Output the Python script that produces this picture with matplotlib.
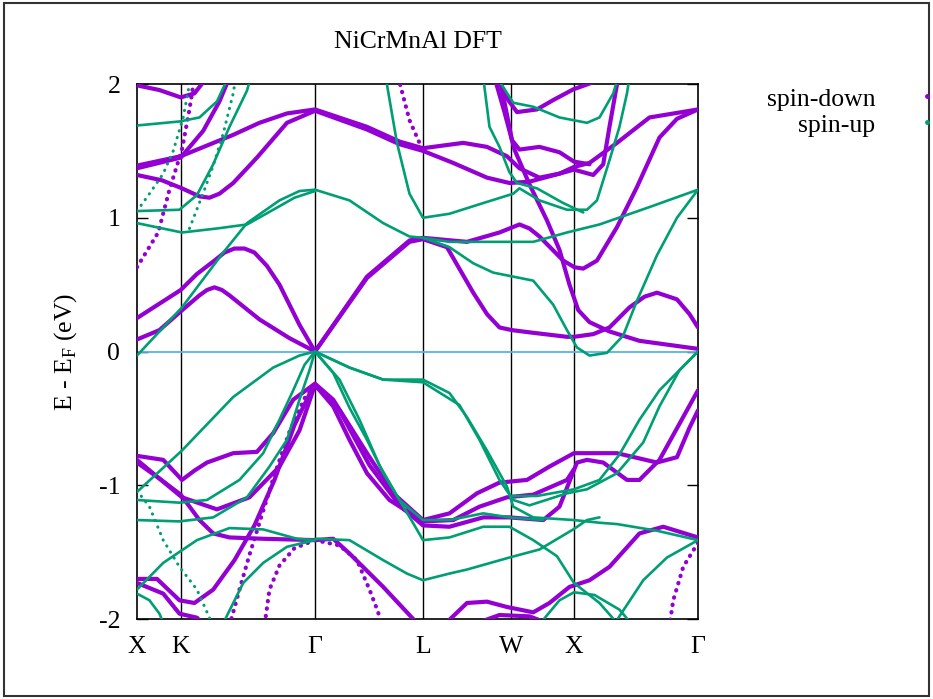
import matplotlib
matplotlib.use("Agg")
import matplotlib.pyplot as plt
from matplotlib.lines import Line2D
from matplotlib.patches import Rectangle

# high-symmetry points along the path
kpts = [0.0, 0.352, 1.424, 2.288, 2.992, 3.496, 4.488]
klabels = ["X", "K", "Γ", "L", "W", "X", "Γ"]

# spin-down bands, (k, E - E_F)
dn_01 = [(0, 1.99), (0.18, 1.955), (0.35, 1.90), (0.46, 1.93), (0.56, 2.05)]
dn_02 = [(0, 1.39), (0.35, 1.46), (0.77, 1.62), (0.98, 1.71), (1.20, 1.78), (1.424, 1.81),
         (1.84, 1.68), (2.10, 1.57), (2.288, 1.52), (2.61, 1.56), (2.80, 1.53), (2.96, 1.46),
         (3.06, 1.37), (3.22, 1.30), (3.38, 1.33), (3.496, 1.38), (3.62, 1.41), (3.84, 1.56),
         (4.10, 1.75), (4.488, 1.81)]
dn_03 = [(0, 1.32), (0.20, 1.28), (0.36, 1.22), (0.50, 1.16), (0.58, 1.15), (0.66, 1.18),
         (0.77, 1.26), (0.96, 1.45), (1.20, 1.71), (1.424, 1.80), (1.84, 1.66), (2.10, 1.55),
         (2.288, 1.50), (2.53, 1.41), (2.80, 1.30), (2.98, 1.26), (3.14, 1.27), (3.38, 1.33),
         (3.496, 1.36), (3.65, 1.32), (3.73, 1.40), (3.78, 1.68), (3.85, 2.05)]
dn_04 = [(0, 1.37), (0.35, 1.45), (0.53, 1.65), (0.66, 1.87), (0.74, 2.05)]
dn_05 = [(0, 0.63), (0.17, 0.89), (0.26, 1.21), (0.36, 1.51), (0.42, 1.81), (0.46, 2.05)]
dn_06 = [(0, 0.25), (0.35, 0.46), (0.48, 0.58), (0.62, 0.68), (0.70, 0.74), (0.78, 0.77),
         (0.86, 0.77), (0.94, 0.74), (1.04, 0.64), (1.14, 0.50), (1.30, 0.20), (1.424, 0.0),
         (1.84, 0.56), (2.18, 0.83), (2.288, 0.85), (2.64, 0.82), (2.90, 0.89), (3.06, 0.95),
         (3.14, 0.92), (3.22, 0.86), (3.41, 0.68), (3.50, 0.63), (3.57, 0.62), (3.68, 0.68),
         (3.84, 0.93), (4.0, 1.23), (4.18, 1.60), (4.32, 1.74), (4.488, 1.81)]
dn_07 = [(0, 0.09), (0.18, 0.16), (0.35, 0.30), (0.50, 0.42), (0.56, 0.46), (0.62, 0.48),
         (0.68, 0.46), (0.74, 0.42), (0.86, 0.33), (0.98, 0.24), (1.22, 0.10), (1.424, 0.0),
         (1.84, 0.55), (2.18, 0.82), (2.288, 0.84), (2.48, 0.78), (2.69, 0.44), (2.80, 0.28),
         (2.90, 0.18), (3.0, 0.16), (3.17, 0.14), (3.44, 0.11), (3.496, 0.11), (3.65, 0.13),
         (3.78, 0.18), (3.94, 0.33), (4.06, 0.41), (4.16, 0.44), (4.32, 0.39), (4.42, 0.28),
         (4.488, 0.18)]
dn_08 = [(2.86, 2.05), (2.94, 1.79), (3.02, 1.51), (3.14, 1.25), (3.28, 0.98), (3.38, 0.76),
         (3.46, 0.50), (3.53, 0.31), (3.62, 0.22), (3.78, 0.15), (4.02, 0.08), (4.488, 0.02)]
dn_09 = [(2.09, 2.05), (2.18, 1.73), (2.26, 1.56), (2.288, 1.52)]
dn_10 = [(2.90, 2.05), (2.96, 1.77), (3.0, 1.58), (3.06, 1.51), (3.22, 1.53), (3.38, 1.49),
         (3.496, 1.42), (3.62, 1.40)]
dn_11 = [(2.88, 2.05), (2.97, 1.88), (3.04, 1.79), (3.20, 1.81), (3.33, 1.88), (3.49, 1.96),
         (3.70, 2.03)]
dn_12 = [(0, -0.78), (0.21, -0.81), (0.36, -0.96), (0.46, -0.89), (0.56, -0.83), (0.77, -0.76),
         (0.96, -0.75), (1.09, -0.61), (1.25, -0.36), (1.424, -0.24), (1.57, -0.36), (1.84, -0.76),
         (2.05, -1.06), (2.288, -1.26), (2.50, -1.21), (2.72, -1.06), (2.90, -0.98), (3.12, -0.96),
         (3.30, -0.86), (3.496, -0.76), (3.84, -0.76), (4.16, -0.83), (4.32, -0.79), (4.42, -0.57),
         (4.488, -0.44)]
dn_13 = [(0, -0.81), (0.36, -1.09), (0.64, -1.18), (0.90, -1.09), (1.14, -0.86), (1.30, -0.59),
         (1.424, -0.25), (1.62, -0.44), (1.86, -0.85), (2.10, -1.15), (2.288, -1.30), (2.50, -1.31),
         (2.77, -1.24), (2.98, -1.24), (3.25, -1.26), (3.38, -1.16), (3.52, -0.83), (3.60, -0.81),
         (3.73, -0.83), (3.92, -0.96), (4.02, -0.96), (4.18, -0.81), (4.488, -0.29)]
dn_14 = [(1.424, -0.25), (1.57, -0.41), (1.70, -0.66), (1.84, -0.91), (2.02, -1.11), (2.288, -1.27),
         (2.53, -1.26), (2.74, -1.16), (2.96, -1.09), (3.17, -1.07), (3.44, -0.96), (3.496, -0.88)]
dn_15 = [(0, -0.83), (0.18, -0.95), (0.35, -1.07), (0.50, -1.26), (0.61, -1.36), (0.74, -1.39),
         (1.01, -1.40), (1.424, -1.41), (1.57, -1.40), (1.70, -1.51), (1.97, -1.76), (2.26, -2.05)]
dn_16 = [(0, -1.70), (0.16, -1.70), (0.34, -1.86), (0.46, -1.88), (0.61, -1.78), (0.78, -1.56),
         (0.94, -1.30), (1.10, -0.96), (1.26, -0.55), (1.38, -0.32), (1.424, -0.25)]
dn_17 = [(0.74, -2.05), (0.82, -1.78), (0.90, -1.52), (1.0, -1.22), (1.10, -0.92), (1.22, -0.60),
         (1.34, -0.35), (1.424, -0.25)]
dn_18 = [(0, -1.73), (0.21, -1.81), (0.34, -1.96), (0.48, -1.99), (0.54, -2.05)]
dn_19 = [(1.424, -1.41), (1.26, -1.47), (1.14, -1.60), (1.06, -1.78), (1.02, -2.05)]
dn_20 = [(1.424, -1.41), (1.62, -1.45), (1.76, -1.56), (1.86, -1.78), (1.93, -1.95), (1.95, -2.05)]
dn_21 = [(4.488, -1.43), (4.37, -1.61), (4.29, -1.86), (4.26, -2.05)]
dn_22 = [(2.45, -2.05), (2.64, -1.88), (2.80, -1.87), (2.96, -1.91), (3.17, -1.95), (3.30, -1.88),
         (3.46, -1.76), (3.62, -1.71), (3.78, -1.61), (4.02, -1.36), (4.21, -1.31), (4.488, -1.39)]
dn_23 = [(2.66, -2.05), (2.90, -1.97), (3.14, -1.98), (3.34, -2.05)]

# spin-up bands
up_01 = [(0, 1.69), (0.34, 1.72), (0.50, 1.75), (0.64, 1.87), (0.73, 2.05)]
up_02 = [(0, 1.05), (0.34, 1.06), (0.48, 1.17), (0.61, 1.40), (0.74, 1.68), (0.88, 1.95), (0.91, 2.05)]
up_03 = [(0, 1.05), (0.10, 1.18), (0.21, 1.33), (0.29, 1.50), (0.37, 1.75), (0.43, 2.05)]
up_04 = [(0.42, 0.92), (0.54, 1.21), (0.61, 1.39), (0.69, 1.63), (0.77, 1.93), (0.79, 2.05)]
up_05 = [(0, 0.96), (0.36, 0.89), (0.64, 0.92), (0.88, 0.95), (1.09, 1.06), (1.26, 1.15), (1.424, 1.20)]
up_06 = [(0, -0.03), (0.36, 0.33), (0.69, 0.74), (0.88, 0.96), (1.14, 1.13), (1.30, 1.20), (1.424, 1.21)]
up_07 = [(1.424, 1.21), (1.70, 1.13), (1.97, 0.96), (2.18, 0.86), (2.288, 0.85), (2.50, 0.82),
         (2.90, 0.82), (3.17, 0.82), (3.44, 0.89), (3.70, 0.95), (4.10, 1.08), (4.488, 1.21)]
up_08 = [(2.288, 0.85), (2.50, 0.78), (2.69, 0.66), (2.85, 0.59), (3.01, 0.56), (3.17, 0.53),
         (3.33, 0.35), (3.44, 0.16), (3.52, 0.03), (3.62, -0.03), (3.76, -0.01), (3.89, 0.12),
         (4.0, 0.38), (4.16, 0.72), (4.32, 1.0), (4.488, 1.21)]
up_09 = [(1.99, 2.05), (2.08, 1.56), (2.18, 1.18), (2.288, 1.0), (2.50, 1.03), (2.77, 1.11),
         (3.01, 1.18), (3.06, 1.22), (3.22, 1.13), (3.44, 1.06), (3.60, 1.06), (3.68, 1.13),
         (3.78, 1.43), (3.86, 1.68), (3.92, 1.93), (3.94, 2.05)]
up_10 = [(2.77, 2.05), (2.82, 1.68), (2.90, 1.53), (2.98, 1.34), (3.04, 1.26), (3.20, 1.22),
         (3.41, 1.11), (3.57, 1.04)]
up_11 = [(2.88, 2.05), (3.01, 1.86), (3.17, 1.83), (3.38, 1.75), (3.60, 1.71), (3.70, 1.75),
         (3.81, 1.93), (3.85, 2.05)]
up_12 = [(0, -1.05), (0.36, -0.74), (0.77, -0.34), (1.09, -0.12), (1.30, -0.03), (1.424, 0),
         (1.70, -0.12), (1.97, -0.21), (2.288, -0.21), (2.50, -0.31), (2.64, -0.49), (2.80, -0.74),
         (2.96, -1.01), (3.01, -1.16), (3.17, -1.24), (3.496, -1.26), (3.70, -1.28), (3.84, -1.29),
         (4.16, -1.34), (4.488, -1.41)]
up_13 = [(1.424, 0), (1.70, -0.12), (1.97, -0.21), (2.288, -0.23), (2.58, -0.40), (2.74, -0.66),
         (2.90, -0.96), (3.01, -1.11), (3.14, -1.15), (3.44, -1.06), (3.60, -1.03), (3.84, -0.91),
         (4.05, -0.68), (4.18, -0.41), (4.34, -0.14), (4.488, 0)]
up_14 = [(2.99, -1.08), (3.20, -1.08), (3.496, -1.03), (3.70, -0.96), (3.86, -0.77), (4.02, -0.51),
         (4.18, -0.29), (4.488, 0)]
up_15 = [(0, -1.11), (0.34, -1.13), (0.56, -1.11), (0.82, -0.96), (1.01, -0.76), (1.14, -0.51),
         (1.25, -0.29), (1.34, -0.10), (1.424, 0)]
up_16 = [(0, -1.26), (0.34, -1.27), (0.61, -1.24), (0.88, -1.09), (1.06, -0.86), (1.20, -0.66),
         (1.30, -0.36), (1.38, -0.14), (1.424, 0)]
up_17 = [(1.424, 0), (1.57, -0.16), (1.70, -0.42), (1.84, -0.66), (1.97, -0.91), (2.10, -1.11),
         (2.22, -1.30), (2.288, -1.41), (2.50, -1.39), (2.77, -1.31), (2.98, -1.31), (3.17, -1.41),
         (3.36, -1.53), (3.496, -1.73), (3.70, -1.88), (3.86, -2.05)]
up_18 = [(1.424, 0), (1.62, -0.21), (1.78, -0.51), (1.94, -0.85), (2.10, -1.11), (2.288, -1.26),
         (2.50, -1.26), (2.77, -1.21), (2.98, -1.24), (3.25, -1.26)]
up_19 = [(1.424, -1.40), (1.70, -1.41), (1.97, -1.56), (2.16, -1.66), (2.288, -1.71), (2.50, -1.66),
         (2.64, -1.63), (2.98, -1.54), (3.22, -1.48), (3.49, -1.33), (3.60, -1.26), (3.70, -1.24)]
up_20 = [(0, -1.78), (0.21, -1.58), (0.48, -1.41), (0.74, -1.32), (1.01, -1.33), (1.28, -1.40), (1.424, -1.41)]
up_21 = [(0, -1.04), (0.10, -1.16), (0.21, -1.41), (0.34, -1.61), (0.48, -1.78), (0.58, -1.99), (0.59, -2.05)]
up_22 = [(0.68, -2.05), (0.85, -1.73), (1.01, -1.58), (1.20, -1.46), (1.424, -1.41)]
up_23 = [(0, -1.81), (0.10, -1.86), (0.18, -1.96), (0.22, -2.05)]
up_24 = [(3.81, -2.05), (4.05, -1.71), (4.24, -1.54), (4.488, -1.41)]
up_25 = [(3.21, -2.05), (3.38, -1.86), (3.496, -1.80), (3.66, -1.82), (3.86, -1.93), (3.97, -2.05)]

spin_down = [dn_01, dn_02, dn_03, dn_04, dn_06, dn_07, dn_08, dn_10, dn_11, dn_12,
             dn_13, dn_14, dn_15, dn_16, dn_18, dn_22, dn_23]
spin_down_steep = [dn_05, dn_09, dn_17, dn_19, dn_20, dn_21]
spin_up = [up_01, up_02, up_05, up_06, up_07, up_08, up_09, up_10, up_11, up_12,
           up_13, up_14, up_15, up_16, up_17, up_18, up_19, up_20, up_22, up_23, up_24, up_25]
spin_up_steep = [up_03, up_04, up_21]

purple = "#9400d3"
green = "#009e73"

plt.rcParams['font.family'] = ['Liberation Serif', 'DejaVu Serif']

fig = plt.figure(figsize=(9.33, 6.99), dpi=100)
ax = fig.add_axes([0.1468, 0.1144, 0.6013, 0.7654])

for band in spin_down:
    k, e = zip(*band)
    ax.plot(k, e, color=purple, lw=3.0, solid_capstyle='round', solid_joinstyle='round', zorder=3)
for band in spin_down_steep:
    k, e = zip(*band)
    ax.plot(k, e, color=purple, lw=3.0, ls=(0, (0.1, 1.7)), dash_capstyle='round', zorder=3)
for band in spin_up:
    k, e = zip(*band)
    ax.plot(k, e, color=green, lw=1.9, solid_capstyle='round', solid_joinstyle='round', zorder=4)
for band in spin_up_steep:
    k, e = zip(*band)
    ax.plot(k, e, color=green, lw=2.2, ls=(0, (0.1, 2.2)), dash_capstyle='round', zorder=4)

ax.axhline(0, color="#56b4e9", lw=1.3, zorder=2)
for kp in kpts[1:-1]:
    ax.axvline(kp, color="black", lw=1.0, zorder=1)

ax.set_xlim(kpts[0], kpts[-1])
ax.set_ylim(-2, 2)
ax.set_xticks(kpts)
ax.set_xticklabels(klabels)
ax.set_yticks([-2, -1, 0, 1, 2])
ax.set_yticklabels(["-2", "-1", "0", "1", "2"])
ax.tick_params(axis='y', direction='in', right=True, length=8, width=1, labelsize=18.5, pad=12)
ax.tick_params(axis='x', direction='in', top=False, length=0, labelsize=18.5, pad=12)
for s in ax.spines.values():
    s.set_linewidth(1.2)

ax.set_ylabel("E - E$_\\mathregular{F}$ (eV)", fontsize=18.5, labelpad=14)
ax.set_title("NiCrMnAl DFT", fontsize=18.5, pad=26)

# key, top right
fig.text(0.938, 0.857, "spin-down", ha='right', va='center', fontsize=18.5)
fig.text(0.938, 0.820, "spin-up", ha='right', va='center', fontsize=18.5)
fig.add_artist(Line2D([0.994], [0.862], marker='o', ms=2.5, color=purple, lw=0,
                      transform=fig.transFigure))
fig.add_artist(Line2D([0.994], [0.825], marker='o', ms=2.5, color=green, lw=0,
                      transform=fig.transFigure))

fig.add_artist(Rectangle((0.004, 0.004), 0.992, 0.991, transform=fig.transFigure,
                         fill=False, edgecolor="#333333", lw=1.5))

fig.savefig("out.png", dpi=100)
